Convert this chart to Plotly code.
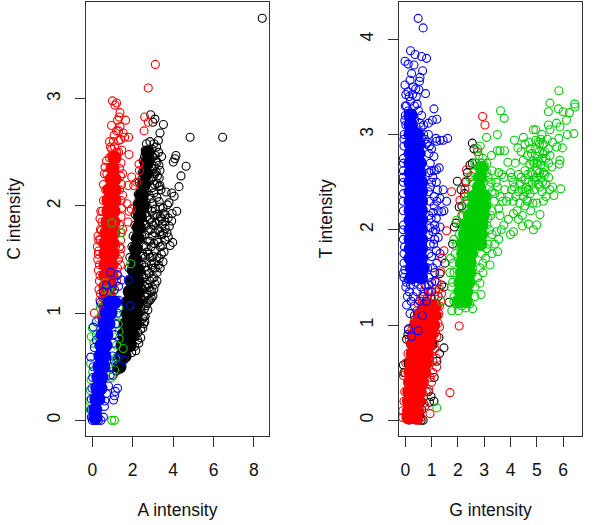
import plotly.graph_objects as go

# ---- left panel: (A intensity, C intensity) ----
L_black_core = [(1.35,.5),(1.45,.6),(1.6,.6),(1.5,.7),(1.85,.7),(1.55,.8),(2.0,.8),(1.65,.9),(2.15,.9),(1.75,1.0),(2.2,1.0),(1.75,1.1),(2.25,1.1),(1.85,1.2),(2.25,1.2),(1.95,1.3),(2.25,1.3),(2.05,1.4),(2.25,1.4),(2.12,1.5),(2.15,1.6),(2.25,1.7),(2.3,1.8),(2.35,1.9),(2.35,2.0),(2.5,2.0),(2.45,2.1),(2.55,2.2),(2.65,2.3),(2.7,2.4),(2.75,2.5)]
L_black_open = [(8.41,3.75),(6.45,2.64),(4.84,2.64),(4.64,2.37),(4.39,2.28),(4.29,2.18),(4.14,2.47),(4.09,2.44),(4.01,2.41),(3.52,2.76),(2.89,2.85),(3.10,2.81),(3.0,2.78),(3.35,2.68),(3.27,2.61),(3.43,2.46),(3.35,2.33),(3.35,2.19),(3.65,2.13),(3.93,2.12),(4.05,2.09),(3.8,2.03),(4.18,1.95),(3.93,1.86),(3.98,1.66),(3.85,1.63),(3.7,1.75),(3.35,1.99),(3.6,1.92),
(2.62,2.52),(2.78,2.49),(2.96,2.53),(3.12,2.47),(3.28,2.5),(2.52,2.42),(2.71,2.38),(2.91,2.43),(3.06,2.37),(3.21,2.41),(2.47,2.31),(2.62,2.28),(2.86,2.33),(3.01,2.27),(3.16,2.32),(3.31,2.26),(2.32,2.22),(2.56,2.18),(2.81,2.23),(2.96,2.17),(3.21,2.21),(3.4,2.15),(2.27,2.11),(2.52,2.08),(2.71,2.13),(2.91,2.07),(3.05,2.12),(2.22,2.02),(2.46,1.98),(2.66,2.03),(3.11,1.97),(3.31,2.04),(3.5,1.98),(3.72,2.01),(2.12,1.92),(2.31,1.88),(2.61,1.93),(2.86,1.87),(3.06,1.91),(3.3,1.86),(3.51,1.93),(3.76,1.89),(3.95,1.93),(2.1,1.82),(2.41,1.78),(2.56,1.83),(2.81,1.77),(3.01,1.82),(3.26,1.78),(3.46,1.83),(3.61,1.79),(3.81,1.81),(2.02,1.72),(2.31,1.68),(2.61,1.73),(2.76,1.67),(2.96,1.72),(3.21,1.68),(3.41,1.73),(3.6,1.68),(3.76,1.71),(1.96,1.62),(2.21,1.58),(2.56,1.63),(2.71,1.57),(2.91,1.62),(3.11,1.58),(3.36,1.62),(3.55,1.57),(1.86,1.52),(2.11,1.48),(2.51,1.53),(2.66,1.47),(2.86,1.52),(3.06,1.47),(3.31,1.51),(3.5,1.48),(1.81,1.42),(2.41,1.38),(2.61,1.43),(2.81,1.37),(3.01,1.42),(3.21,1.38),(3.36,1.42),(2.36,1.28),(2.56,1.33),(2.71,1.27),(2.96,1.32),(3.11,1.27),(2.31,1.18),(2.51,1.22),(2.71,1.17),(2.86,1.21),(3.0,1.16),(2.31,1.08),(2.51,1.12),(2.66,1.07),(2.86,1.12),(2.21,.98),(2.41,1.02),(2.56,.97),(2.75,1.03),(2.6,.92),(2.21,.88),(2.36,.92),(2.5,.86),(2.12,.78),(2.26,.82),(2.4,.77),(1.95,.63),(2.1,.69),(1.03,.42),(1.2,.46),(1.35,.52),
(2.68,2.58),(2.85,2.6),(3.05,2.58),(3.18,2.55),(2.58,2.46),(2.82,2.44),(3.0,2.46),(3.15,2.42),(3.3,2.38),(2.55,2.35),(2.75,2.32),(2.95,2.35),(3.1,2.3),(3.22,2.28),(2.45,2.25),(2.68,2.22),(2.9,2.25),(3.08,2.2),(3.3,2.18),(2.4,2.15),(2.6,2.12),(2.82,2.1),(3.0,2.02),(3.2,2.08),(2.3,2.05),(2.55,2.02),(2.75,1.98),(2.95,1.95),(3.2,1.92),(3.42,1.88),(2.2,1.95),(2.45,1.92),(2.72,1.9),(2.95,1.85),(3.15,1.84),(3.36,1.9),(3.6,1.85),(2.5,1.85),(2.68,1.82),(2.9,1.78),(3.1,1.75),(3.35,1.76),(3.52,1.74),(2.45,1.72),(2.66,1.62),(2.85,1.67),(3.05,1.65),(3.28,1.66),(3.48,1.63),(2.5,1.55),(2.62,1.52),(2.78,1.55),(3.0,1.53),(3.2,1.52),(3.42,1.55),(2.45,1.45),(2.72,1.4),(2.92,1.45),(3.12,1.42),(3.28,1.45),(2.45,1.35),(2.65,1.36),(2.85,1.3),(3.05,1.33),(3.2,1.3),(2.42,1.24),(2.6,1.25),(2.8,1.24),(2.95,1.2),(3.05,1.22),(2.4,1.15),(2.6,1.15),(2.78,1.12),(2.92,1.14),(2.4,1.06),(2.58,1.04),(2.72,1.09),(2.5,.95),(2.62,.97),(2.4,.85),(2.55,.9),(2.3,.72),(2.15,.65),(2.25,.75),(1.2,.5),(1.1,.55)]
L_red_core = [(.6,.95),(.65,1.05),(.65,1.15),(.85,1.15),(.65,1.25),(.9,1.25),(.65,1.35),(.8,1.3),(.95,1.35),(.65,1.45),(.8,1.4),(.95,1.45),(.65,1.55),(.8,1.5),(1.0,1.55),(.65,1.65),(.8,1.6),(1.0,1.65),(.7,1.75),(.85,1.7),(1.05,1.75),(.75,1.85),(.9,1.8),(1.05,1.85),(.8,1.95),(.92,1.9),(1.05,1.95),(.8,2.05),(.95,2.0),(1.1,2.05),(.85,2.15),(.98,2.1),(1.1,2.15),(.95,2.25),(1.1,2.25),(1.0,2.35),(1.1,2.45)]
L_red_open = [(3.12,3.32),(2.77,3.10),(1.0,2.98),(1.12,2.94),(1.2,2.96),(1.37,2.87),(1.33,2.83),(1.65,2.80),(1.37,2.74),(2.59,2.83),(2.77,2.78),(2.56,2.70),(1.53,2.68),(1.6,2.64),(1.8,2.64),(1.04,2.6),(1.3,2.61),(.96,2.53),(1.46,2.52),(1.82,2.48),(.96,2.47),(.63,2.36),(2.31,2.39),(2.33,2.33),(1.95,2.27),(2.2,2.22),(1.77,2.19),(2.05,2.19),(1.72,2.02),(1.93,1.97),(1.82,1.95),(1.77,1.85),(.45,1.77),(.39,1.69),(.31,1.58),(.72,2.3),(1.42,2.4),(1.5,2.3),(.66,2.15),(1.45,2.2),(.55,2.05),(1.5,2.1),(.5,1.95),(.48,1.85),(1.42,1.9),(1.5,1.78),(.32,1.68),(1.4,1.68),(.27,1.5),(1.38,1.55),(.3,1.4),(1.25,1.42),(.35,1.3),(1.2,1.3),(.4,1.18),(.45,1.08),(.46,.98),(.52,.9),(.1,1.0),(1.15,1.62),(1.2,2.5),(1.1,2.55),(1.4,1.45),
(.55,2.2),(.6,2.3),(.7,2.42),(.85,2.45),(.9,2.55),(1.3,2.5),(1.35,2.35),(1.4,2.28),(1.35,2.15),(1.42,2.05),(1.45,1.98),(.42,1.95),(.38,1.88),(.4,1.78),(.28,1.72),(.25,1.62),(.3,1.55),(1.35,1.82),(1.4,1.75),(1.35,1.62),(1.3,1.5),(1.25,1.35),(.35,1.45),(.38,1.35),(.33,1.22),(.38,1.12),(1.42,1.6),(.95,2.75),(1.2,2.7),(1.08,2.66),(1.25,2.8),(1.4,2.62),(1.3,2.7),(.85,2.6)]
L_green_open = [(.96,1.84),(1.46,1.75),(1.9,1.46),(.63,1.28),(0,.86),(-.05,.78),(1.53,.67),(1.33,.76),(.96,0),(1.1,0),(.8,1.22),(.4,1.05),(1.3,1.05),(1.1,.47),(-.08,.53),(-.1,.28),(.55,1.15),(1.05,1.2),(1.2,.98),(1.28,.9),(1.32,.83),(1.2,.7),(1.15,.58),(.02,.45),(-.06,.38),(-.12,.18),(-.1,.1),(.08,.72),(.2,.8),(.32,.95),(.95,.4),(1.0,.55)]
L_blue_core = [(.15,.03),(.15,.1),(.2,.2),(.3,.2),(.25,.3),(.4,.3),(.3,.4),(.45,.4),(.35,.5),(.55,.5),(.4,.6),(.6,.6),(.45,.7),(.65,.7),(.5,.8),(.7,.8),(.6,.9),(.8,.9),(.7,1.0),(.9,1.0),(.85,1.1),(1.1,1.1)]
L_blue_open = [(.91,1.38),(1.24,1.36),(1.45,1.31),(1.78,1.31),(1.87,1.07),(.05,.87),(.2,.92),(-.08,.59),(1.25,.58),(1.56,.56),(1.25,.3),(1.14,.27),(1.05,.19),(1.1,.23),(.6,.13),(.43,0),(.55,.03),(.62,.18),(1.3,1.25),(1.1,1.22),(1.0,1.28),(.55,1.2),(.4,1.1),(.7,1.26),(1.3,1.12),(1.25,1.0),(1.15,.9),(1.1,.8),(1.05,.72),(1.0,.6),(.95,.5),(.88,.42),(.8,.32),(.7,.25),(.1,.68),(.2,.75),(.05,.5),(.02,.4),(-.02,.3),(-.05,.2),(-.05,.1),(-.05,.03),(0,0),(.1,0),(.2,0),(.3,0)]

# ---- right panel: (G intensity, T intensity) ----
R_black_core = [(.15,.03),(.42,.03),(.5,.2),(.6,.4),(.75,.6),(.95,.8),(1.05,1.0),(.3,.8),(.2,.6)]
R_black_open = [(1.51,1.65),(1.47,1.40),(1.38,1.42),(1.32,1.54),(1.47,.76),(1.28,.87),(-.07,.58),(.12,.95),(1.09,.20),(.92,.19),(.88,.30),(.68,0),(.62,.11),(1.67,1.24),(2.55,2.91),(2.61,2.85),(2.46,2.68),(1.98,2.51),(2.12,2.42),(2.05,2.24),(1.93,2.07),(1.87,2.03),(1.80,1.85),(2.36,2.6),(2.3,2.5),(2.25,2.38),(2.15,2.25),(2.55,2.7),(-.05,.5),(.05,.85),(.6,0),(.55,.05),(1.3,.7),(1.2,.62),(1.1,.45),(.98,.25),(1.25,1.3),(.95,1.2),(.8,1.25),(.62,1.15),(.35,1.1),(.1,.9),(1.2,1.1)]
R_red_core = [(.12,.03),(.4,.03),(.14,.1),(.42,.1),(.14,.2),(.48,.2),(.15,.3),(.33,.3),(.55,.3),(.18,.4),(.4,.4),(.62,.4),(.2,.5),(.45,.5),(.72,.5),(.25,.6),(.5,.6),(.78,.6),(.28,.7),(.55,.7),(.82,.7),(.3,.8),(.6,.8),(.88,.8),(.35,.9),(.65,.9),(.98,.9),(.4,1.0),(.72,1.0),(1.05,1.0),(.55,1.1),(.8,1.1),(1.08,1.1),(.75,1.2),(1.1,1.2),(.92,1.2)]
R_red_open = [(1.7,.29),(2.05,.99),(.94,.07),(1.19,.56),(1.19,.65),(1.3,.98),(1.38,1.33),(1.35,1.56),(1.4,1.7),(-.07,.47),(2.94,3.19),(3.03,3.10),(2.74,2.82),(2.33,2.63),(2.52,2.56),(2.31,2.51),(1.76,2.40),(2.08,2.31),(2.27,2.43),(1.57,1.99),(1.47,1.78),(2.25,2.35),(2.15,2.15),(1.25,1.02),(1.28,1.12),(1.22,1.2),(1.1,1.3),(.95,1.35),(.8,1.4),(.65,1.3),(.5,1.22),(1.1,.8),(1.05,.5),(.9,.32),(.75,.15),(.55,.1),(.5,0),(1.15,.92),(1.0,.4),
(-.02,.3),(-.05,.2),(-.1,.1),(-.1,.03),(.6,.03),(.7,.18),(.8,.3),(.95,.45),(1.05,.62),(1.12,.75),(1.2,.88),(1.25,1.1),(1.3,1.2),(1.35,1.25),(1.3,1.38),(1.15,1.35),(1.0,1.28),(.85,1.3),(.7,1.35),(1.2,1.45),(.0,.5),(.02,.6),(.1,.7),(.15,.85),(.25,.95),(.35,1.05),(.45,1.15),(.65,1.25)]
R_green_core = [(2.05,1.25),(2.3,1.25),(2.1,1.35),(2.32,1.35),(2.1,1.45),(2.4,1.45),(2.15,1.55),(2.45,1.55),(2.15,1.65),(2.45,1.65),(2.2,1.75),(2.5,1.75),(2.2,1.85),(2.6,1.85),(2.85,1.85),(2.27,1.95),(2.6,1.95),(2.88,1.95),(2.3,2.05),(2.6,2.05),(2.9,2.05),(2.45,2.15),(2.72,2.15),(2.95,2.15),(2.6,2.25),(2.8,2.25),(3.0,2.25),(2.62,2.35),(2.8,2.35),(3.0,2.35),(2.8,2.45),(2.85,2.55),(2.9,2.65)]
R_green_open = [(5.84,3.46),(5.5,3.33),(6.44,3.32),(6.45,3.29),(5.82,3.27),(5.44,3.24),(6.0,3.24),(6.24,3.23),(6.13,3.15),(3.62,3.25),(3.76,3.17),(3.09,2.97),(3.5,3.0),(4.15,2.94),(4.49,2.97),(4.87,3.05),(4.96,3.05),(5.44,3.1),(5.75,3.12),(5.88,3.08),(5.5,3.05),(6.41,3.01),(6.16,3.0),(5.84,2.96),(5.19,3.0),(4.96,2.94),(4.55,2.9),(4.28,2.86),(5.97,2.86),(5.76,2.87),(5.44,2.85),(5.88,2.73),(5.86,2.69),(5.57,2.66),(3.9,2.71),(4.18,2.7),(4.49,2.73),(4.74,2.69),(5.25,2.8),(5.0,2.77),(3.67,2.58),(4.04,2.55),(4.3,2.58),(3.77,2.83),(3.6,2.83),(3.5,2.83),(3.28,2.78),(5.91,2.43),(5.6,2.45),(5.65,2.36),(5.12,2.16),(5.0,2.28),(4.77,2.2),(4.62,2.31),(4.36,2.28),(4.1,2.3),(4.04,2.42),(3.79,2.42),(4.11,2.17),(3.92,2.11),(4.3,2.11),(4.46,2.04),(4.68,2.06),(5.0,2.05),(4.87,2.0),(4.11,1.98),(4.0,1.95),(3.51,1.77),(3.47,1.98),
(2.88,1.32),(2.56,1.17),(3.22,1.63),(2.84,1.44),(2.02,1.15),(1.77,1.15),(1.2,.13),(1.38,1.25),(2.3,1.18),(1.85,1.25),(2.65,1.3),(1.75,1.4),(1.7,1.55),(2.95,1.55),(3.05,1.7),(1.72,1.7),(3.15,1.85),(1.85,1.9),(3.3,1.95),(3.1,2.05),(1.95,2.1),(3.25,2.15),(3.38,2.3),(3.55,2.22),(3.2,2.45),(3.45,2.5),(3.3,2.62),(3.1,2.7),(2.95,2.75),(2.85,2.88),(2.65,2.7),(2.45,2.55),(2.3,2.3),
(4.4,2.55),(4.55,2.62),(4.7,2.5),(4.85,2.58),(5.0,2.62),(5.15,2.55),(5.3,2.65),(4.45,2.42),(4.6,2.45),(4.75,2.38),(4.9,2.42),(5.05,2.48),(5.2,2.4),(5.35,2.48),(4.5,2.35),(4.3,2.4),(4.15,2.45),(4.8,2.8),(4.95,2.85),(5.1,2.82),(5.25,2.9),(5.35,2.75),(5.45,2.7),(4.65,2.78),(5.05,2.72),(5.15,2.68),(5.3,2.58),(4.9,2.7),(4.7,2.92),(5.05,2.92),(5.6,2.92),(4.4,2.82),(3.95,2.35),(3.7,2.3),(3.6,2.15),(3.75,2.05),(3.55,2.6),(5.45,2.55),(5.5,2.42),(4.85,2.28),(4.25,2.2),(4.45,2.15),
(1.85,1.3),(1.95,1.22),(2.15,1.2),(2.45,1.22),(2.65,1.4),(2.75,1.5),(1.8,1.45),(1.85,1.55),(1.82,1.65),(2.85,1.6),(2.95,1.65),(2.9,1.75),(1.9,1.75),(1.95,1.85),(3.1,1.8),(2.05,1.95),(3.2,2.0),(2.1,2.05),(3.15,2.12),(2.2,2.15),(3.3,2.2),(2.3,2.2),(3.4,2.38),(3.3,2.4),(2.4,2.35),(3.15,2.55),(2.55,2.5),(3.25,2.5),(2.6,2.6),(3.1,2.6),(2.7,2.7),(3.0,2.68),(2.8,2.78),(2.9,2.7),(2.75,2.85),(3.6,2.35),(3.5,2.45),(3.75,2.55),(3.85,2.3),(3.65,2.0),(3.55,1.9),(3.4,1.85),(3.3,1.75),
(4.35,2.48),(4.55,2.52),(4.65,2.58),(4.78,2.6),(4.92,2.52),(5.1,2.6),(5.22,2.5),(4.55,2.4),(4.68,2.42),(4.82,2.48),(4.98,2.55),(5.12,2.45),(5.25,2.6),(5.0,2.7),(5.2,2.75),(5.1,2.9),(4.85,2.72),(5.3,2.82),(4.75,2.85),(5.15,2.95),(5.4,2.95),(5.5,2.78),(5.35,2.35),(5.25,2.3),(4.65,2.3),(4.55,2.25),(4.2,2.35),(4.1,2.5),(4.0,2.6)]
R_blue_core = [(.25,1.5),(.6,1.5),(.25,1.6),(.65,1.6),(.2,1.7),(.6,1.7),(.2,1.8),(.6,1.8),(.2,1.9),(.6,1.9),(.2,2.0),(.6,2.0),(.2,2.1),(.6,2.1),(.2,2.2),(.6,2.2),(.2,2.3),(.6,2.3),(.2,2.4),(.6,2.4),(.2,2.5),(.6,2.5),(.2,2.6),(.55,2.6),(.2,2.7),(.55,2.7),(.2,2.8),(.5,2.8),(.2,2.9),(.5,2.9),(.2,3.0),(.45,3.0),(.2,3.1),(.2,3.2)]
R_blue_open = [(.49,4.22),(.68,4.12),(.2,3.88),(.37,3.84),(.62,3.82),(.81,3.80),(-.01,3.77),(.11,3.74),(.33,3.73),(.66,3.67),(.24,3.64),(.56,3.60),(.54,3.56),(.18,3.57),(-.01,3.52),(.52,3.47),(.77,3.43),(1.09,3.27),(1.2,3.16),(1.03,3.15),(.88,3.12),(1.61,2.96),(1.44,2.94),(1.32,2.94),(1.17,2.96),(1.2,2.93),(.88,3.0),(1.09,2.77),(1.29,2.65),(1.19,2.63),(1.44,2.42),(1.32,2.33),(1.57,2.30),(1.47,2.20),(1.38,2.19),(1.32,2.03),(1.15,2.0),(1.32,1.75),(-.08,1.54),(1.13,1.46),(1.0,1.35),(.05,1.21),(.18,1.12),(.65,1.10),(.12,.96),(.49,.94),(.24,.88),
(.1,3.45),(.3,3.5),(.42,3.4),(.05,3.3),(.2,3.35),(.35,3.3),(.5,3.25),(.62,3.2),(.0,3.2),(.7,3.1),(.02,3.1),(.7,3.0),(-.04,3.0),(.8,2.9),(-.05,2.88),(.9,2.8),(-.07,2.75),(.95,2.7),(-.07,2.62),(1.05,2.55),(-.07,2.5),(.95,2.45),(-.07,2.38),(1.1,2.35),(-.07,2.2),(1.1,2.25),(-.07,2.05),(.98,2.12),(-.07,1.9),(1.05,1.98),(-.05,1.75),(1.08,1.85),(-.05,1.65),(1.0,1.72),(-.05,1.5),(1.05,1.6),(.9,1.5),(.02,1.4),(.15,1.35),(.3,1.3),(.45,1.35),(.6,1.4),(.75,1.42),(.88,1.35),(.22,1.25),(.08,1.3),(.35,1.2),(.3,1.5),(.55,1.48),(.12,1.48),
(.02,3.42),(.15,3.4),(.28,3.42),(.4,3.48),(.45,3.32),(.12,3.25),(.28,3.22),(.55,3.12),(.35,3.15),(.6,3.08),(.75,2.95),(.85,2.92),(.92,2.88),(1.0,2.85),(.98,2.62),(1.1,2.62),(1.0,2.5),(1.18,2.5),(.95,2.3),(1.05,2.18),(1.18,2.12),(1.25,2.2),(1.2,2.3),(1.22,2.42),(.95,2.02),(1.12,2.05),(1.25,1.92),(1.12,1.9),(.95,1.85),(1.18,1.78),(1.2,1.65),(1.12,1.55),(1.0,1.45),(.9,1.42),(.85,1.6),(.8,1.25),(.7,1.3),(.55,1.25),(.4,1.45),(.2,1.42),(.05,1.45),(-.02,1.58),(-.03,1.82),(-.08,2.0),(-.08,2.3),(-.08,2.55),(-.07,2.7),(-.05,2.95),(-.02,3.15),(.0,3.3),(.9,2.6),(.88,2.4),(.9,2.15),(.88,1.95),(.9,1.75)]

# ---- tick labels ----
L_x_ticks = [0, 2, 4, 6, 8]
L_y_ticks = [0, 1, 2, 3]
R_x_ticks = [0, 1, 2, 3, 4, 5, 6]
R_y_ticks = [0, 1, 2, 3, 4]

BLACK, RED, GREEN, BLUE = "#000000", "#FF0000", "#00CD00", "#0000FF"
FONT = "Liberation Sans"
W, H = 600, 525

fig = go.Figure()

def add(core, pts, color, xa, ya):
    fig.add_trace(go.Scatter(x=[p[0] for p in core], y=[p[1] for p in core], xaxis=xa, yaxis=ya,
                             mode="markers", hoverinfo="skip",
                             marker=dict(symbol="circle", size=14, color=color, line=dict(width=0))))
    fig.add_trace(go.Scatter(x=[p[0] for p in pts], y=[p[1] for p in pts], xaxis=xa, yaxis=ya,
                             mode="markers", hoverinfo="skip",
                             marker=dict(symbol="circle-open", size=8, color=color, line=dict(width=1.1, color=color))))

add(L_black_core, L_black_open, BLACK, "x", "y")
add(L_red_core, L_red_open, RED, "x", "y")
add([], L_green_open, GREEN, "x", "y")
add(L_blue_core, L_blue_open, BLUE, "x", "y")
add(R_black_core, R_black_open, BLACK, "x2", "y2")
add(R_red_core, R_red_open, RED, "x2", "y2")
add(R_green_core, R_green_open, GREEN, "x2", "y2")
add(R_blue_core, R_blue_open, BLUE, "x2", "y2")

def axis(domain, rng, ticks, title, angle, anchor, standoff, tstand):
    return dict(domain=domain, range=rng, tickmode="array", tickvals=ticks, ticktext=[str(t) for t in ticks],
                ticks="outside", ticklen=10, tickwidth=1.2, tickcolor="#333333", tickangle=angle,
                showline=True, linecolor="#333333", linewidth=1.3, mirror=True, showgrid=False, zeroline=False,
                tickfont=dict(family=FONT, size=17.5, color="#111111"), ticklabelstandoff=standoff, anchor=anchor,
                title=dict(text=title, font=dict(family=FONT, size=17.5, color="#111111"), standoff=tstand))

fig.update_layout(
    width=W, height=H, autosize=False, showlegend=False,
    paper_bgcolor="white", plot_bgcolor="white",
    margin=dict(l=0, r=0, t=0, b=0),
    xaxis=axis([85.7/W, 269.3/W], [-0.327, 8.76], L_x_ticks, "A intensity", 0, "y", 8, 24),
    yaxis=axis([1-436/H, 1-1.7/H], [-0.146, 3.905], L_y_ticks, "C intensity", -90, "x", 8, 18),
    xaxis2=axis([398.7/W, 582.3/W], [-0.25, 6.73], R_x_ticks, "G intensity", 0, "y2", 8, 24),
    yaxis2=axis([1-436/H, 1-1.7/H], [-0.165, 4.395], R_y_ticks, "T intensity", -90, "x2", 8, 19),
)
fig.write_html("out.html", config={"displayModeBar": False}, post_script="document.body.style.margin='0';")
